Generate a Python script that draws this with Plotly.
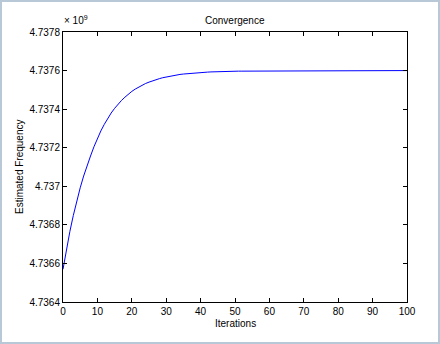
import plotly.graph_objects as go

# Iteration index and the frequency estimate (Hz) after each iteration
iterations = list(range(0, 101))
estimated_frequency = [
    4736570000, 4736673000, 4736766000, 4736849000, 4736924000,
    4736992000, 4737053000, 4737108000, 4737157000, 4737205000,
    4737248000, 4737287000, 4737321000, 4737352000, 4737380000,
    4737404000, 4737426000, 4737445000, 4737462000, 4737478000,
    4737492000, 4737504000, 4737515000, 4737524000, 4737533000,
    4737540000, 4737547000, 4737553000, 4737558000, 4737563000,
    4737567000, 4737571000, 4737574000, 4737577000, 4737580000,
    4737582000, 4737584000, 4737586000, 4737587000, 4737589000,
    4737590000, 4737591000, 4737592000, 4737593000, 4737594000,
    4737594000, 4737595000, 4737595000, 4737596000, 4737596000,
    4737596000, 4737597000, 4737597000, 4737597000, 4737597000,
    4737598000, 4737598000, 4737598000, 4737598000, 4737600000,
    4737600000, 4737600000, 4737600000, 4737600000, 4737600000,
    4737600000, 4737600000, 4737600000, 4737600000, 4737600000,
    4737600000, 4737600000, 4737600000, 4737600000, 4737600000,
    4737600000, 4737600000, 4737600000, 4737600000, 4737600000,
    4737600000, 4737600000, 4737600000, 4737600000, 4737600000,
    4737600000, 4737600000, 4737600000, 4737600000, 4737600000,
    4737600000, 4737600000, 4737600000, 4737600000, 4737600000,
    4737600000, 4737600000, 4737600000, 4737600000, 4737600000,
    4737600000,
]

# Axis ticks
x_ticks = [0, 10, 20, 30, 40, 50, 60, 70, 80, 90, 100]
y_ticks = [4736400000, 4736600000, 4736800000, 4737000000,
           4737200000, 4737400000, 4737600000, 4737800000]
y_tick_labels = ["4.7364", "4.7366", "4.7368", "4.737",
                 "4.7372", "4.7374", "4.7376", "4.7378"]

W, H = 440, 344
L, R, T, B = 63, 33, 32, 42
PW, PH = W - L - R, H - T - B

def px(x):
    return (x - L) / PW

def py(y):
    return (H - B - y) / PH

FONT = "Liberation Sans, Arial, Helvetica, sans-serif"

fig = go.Figure()
fig.add_trace(go.Scatter(
    x=iterations, y=estimated_frequency, mode="lines",
    line=dict(color="#0000ff", width=1), showlegend=False,
    hoverinfo="skip",
))

axis_common = dict(
    showgrid=False, zeroline=False, showline=True, linecolor="black",
    linewidth=1, mirror="allticks", ticks="inside", ticklen=4,
    tickwidth=1, tickcolor="black",
    tickfont=dict(family=FONT, size=10, color="black"),
)

fig.update_xaxes(range=[0, 100], tickmode="array", tickvals=x_ticks,
                 **axis_common)
fig.update_yaxes(range=[4736400000, 4737800000], tickmode="array",
                 tickvals=y_ticks, ticktext=y_tick_labels, **axis_common)

annotations = [
    dict(text="Convergence", x=0.5, y=py(20.5), xref="paper", yref="paper",
         xanchor="center", yanchor="middle", showarrow=False,
         font=dict(family=FONT, size=10, color="black")),
    dict(text="Iterations", x=0.5, y=py(323.5), xref="paper", yref="paper",
         xanchor="center", yanchor="middle", showarrow=False,
         font=dict(family=FONT, size=10, color="black")),
    dict(text="Estimated Frequency", x=px(19), y=py(167), xref="paper",
         yref="paper", xanchor="center", yanchor="middle", textangle=-90,
         showarrow=False, font=dict(family=FONT, size=10, color="black")),
    dict(text="\u00d7 10<sup>9</sup>", x=px(62), y=py(28), xref="paper",
         yref="paper", xanchor="left", yanchor="bottom", showarrow=False,
         font=dict(family=FONT, size=10, color="black")),
]

# Thin frame around the whole figure
shapes = [
    dict(type="rect", xref="paper", yref="paper",
         x0=px(1), x1=px(W - 1), y0=py(H - 1), y1=py(1),
         line=dict(color="#b9c8d6", width=2), fillcolor="rgba(0,0,0,0)",
         layer="below"),
]

fig.update_layout(
    width=W, height=H,
    margin=dict(l=L, r=R, t=T, b=B, pad=0),
    paper_bgcolor="white", plot_bgcolor="white",
    annotations=annotations, shapes=shapes,
    showlegend=False,
)

fig.write_html("out.html", config={"displayModeBar": False})
